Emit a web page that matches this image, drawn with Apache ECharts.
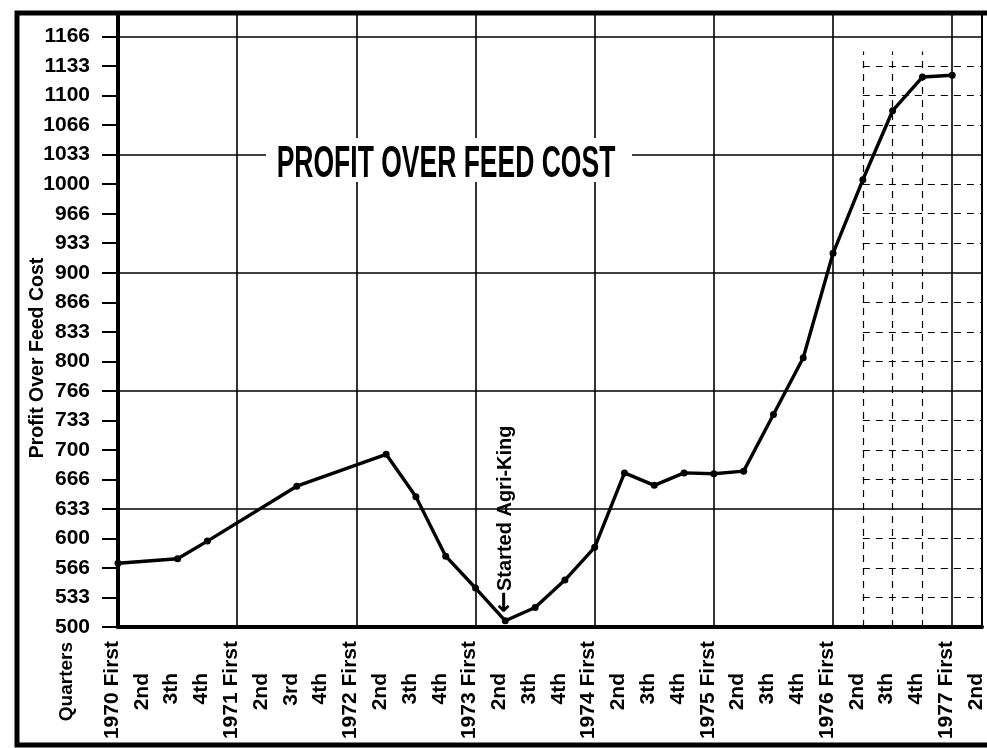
<!DOCTYPE html>
<html><head><meta charset="utf-8">
<script src="https://cdn.jsdelivr.net/npm/echarts@6/dist/echarts.min.js"></script>
<style>html,body{margin:0;padding:0;background:#fff}#c{width:987px;height:748px}</style>
</head><body><div id="c"></div>
<script>
// ---- data ----
const quarters = ['1970 First','2nd','3th','4th','1971 First','2nd','3rd','4th','1972 First','2nd','3th','4th','1973 First','2nd','3th','4th','1974 First','2nd','3th','4th','1975 First','2nd','3th','4th','1976 First','2nd','3th','4th','1977 First','2nd'];
const profit = [572,null,577,597,null,null,659,null,null,695,647,580,544,507,522,553,590,674,660,674,673,676,740,804,922,1005,1083,1121,1123,null];
const yMin = 500;
const yTickStep = 100 / 3;          // tick labels 500, 533, 566, 600 ...
const yLastLabel = 3500 / 3;        // 1166
const yMax = 500 + 20.8 * yTickStep;
const majorStep = 400 / 3;          // major grid lines
const titleText = 'PROFIT OVER FEED COST';
const yAxisName = 'Profit Over Feed Cost';
const xAxisName = 'Quarters';
const annotationArrow = '\u2190';
const annotation = 'Started Agri-King';
const annotationIndex = 13;
const dashedCols = [25, 26, 27];
const rightCol = 29;

const FONT = '"Liberation Sans", Arial, sans-serif';
const chart = echarts.init(document.getElementById('c'), null, {renderer: 'canvas'});

const minorLevels = [];
for (let k = 1; yMin + k * yTickStep < yLastLabel + 1; k++) {
  if (k % 4 !== 0) minorLevels.push(yMin + k * yTickStep);
}
const markLines = [];
minorLevels.forEach(v => markLines.push([{coord: [25, v]}, {coord: [29, v]}]));
dashedCols.forEach(c => markLines.push([{coord: [c, yMin]}, {coord: [c, 1150]}]));

function isLabelTick(v) {
  const k = (v - yMin) / yTickStep;
  return Math.abs(k - Math.round(k)) < 1e-6 && v < yLastLabel + 1;
}

chart.setOption({
  animation: false,
  backgroundColor: '#fff',
  grid: {left: 118, right: 5, top: 13, bottom: 121},
  xAxis: {
    type: 'category', boundaryGap: false, data: quarters,
    axisLine: {lineStyle: {color: '#000', width: 4}},
    axisTick: {show: false},
    axisLabel: {
      interval: 0, rotate: 90, margin: 14, color: '#000',
      fontFamily: FONT, fontWeight: 'bold', fontSize: 21,
      formatter: (v, i) => (i % 4 === 0 ? '{y|' + v + '}' : '{q|' + v + '}'),
      rich: {
        y: {fontFamily: FONT, fontWeight: 'bold', fontSize: 21, color: '#000', padding: [0, 0, 12, 0]},
        q: {fontFamily: FONT, fontWeight: 'bold', fontSize: 21, color: '#000', padding: [0, 32, 12, 0]}
      }
    },
    splitLine: {show: true, interval: (i) => i % 4 === 0, lineStyle: {color: '#000', width: 1.6}}
  },
  yAxis: [{
    type: 'value', min: yMin, max: yMax, interval: yTickStep,
    axisLine: {show: true, lineStyle: {color: '#000', width: 4}},
    axisTick: {show: true, length: 16, lineStyle: {color: '#000', width: 2}},
    axisLabel: {
      margin: 28, color: '#000', fontFamily: FONT, fontWeight: 'bold', fontSize: 21,
      formatter: v => isLabelTick(v) ? String(Math.floor(v + 1e-6)) : ''
    },
    splitLine: {show: false}
  }, {
    type: 'value', min: yMin, max: yMax, interval: majorStep, position: 'left',
    axisLine: {show: false}, axisTick: {show: false}, axisLabel: {show: false},
    splitLine: {show: true, lineStyle: {color: '#000', width: 1.6}}
  }],
  series: [{
    type: 'line', data: profit, connectNulls: true, yAxisIndex: 0,
    symbol: 'circle', symbolSize: 7,
    lineStyle: {color: '#000', width: 3.4},
    itemStyle: {color: '#000'},
    z: 5,
    markLine: {
      silent: true, symbol: 'none', label: {show: false},
      lineStyle: {color: '#000', width: 1.2, type: [7, 6]},
      data: markLines
    }
  }, {
    type: 'line', data: [], yAxisIndex: 0,
    markLine: {
      silent: true, symbol: 'none', label: {show: false},
      lineStyle: {color: '#000', width: 2, type: 'solid'},
      data: [[{coord: [rightCol, yMin]}, {coord: [rightCol, yMax]}]]
    }
  }]
});

const p = chart.convertToPixel({gridIndex: 0}, [annotationIndex, profit[annotationIndex]]);
chart.setOption({
  graphic: [
    {type: 'rect', z: 100, shape: {x: 266, y: 138, width: 366, height: 44}, style: {fill: '#fff'}},
    {type: 'text', z: 101, x: 446, y: 165, scaleY: 1.68,
     style: {text: titleText, font: 'bold 26.5px ' + FONT, fill: '#000', align: 'center', verticalAlign: 'middle'}},
    {type: 'text', z: 101, x: 38, y: 358, rotation: Math.PI / 2,
     style: {text: yAxisName, font: 'bold 19.5px ' + FONT, fill: '#000', align: 'center', verticalAlign: 'middle'}},
    {type: 'text', z: 101, x: 67, y: 642, rotation: Math.PI / 2,
     style: {text: xAxisName, font: 'bold 19px ' + FONT, fill: '#000', align: 'right', verticalAlign: 'middle'}},
    {type: 'text', z: 101, x: p[0], y: p[1] - 8, rotation: Math.PI / 2,
     style: {text: '{a|' + annotationArrow + '}{t|' + annotation + '}', fill: '#000', align: 'left', verticalAlign: 'middle',
       rich: {
         a: {font: 'bold 26px "DejaVu Sans", sans-serif', fill: '#000', verticalAlign: 'middle'},
         t: {font: 'bold 20px ' + FONT, fill: '#000', verticalAlign: 'middle'}
       }}},
    {type: 'rect', z: 102, shape: {x: 17, y: 13, width: 1000, height: 732}, style: {fill: 'none', stroke: '#000', lineWidth: 5}}
  ]
});
</script>
</body></html>
